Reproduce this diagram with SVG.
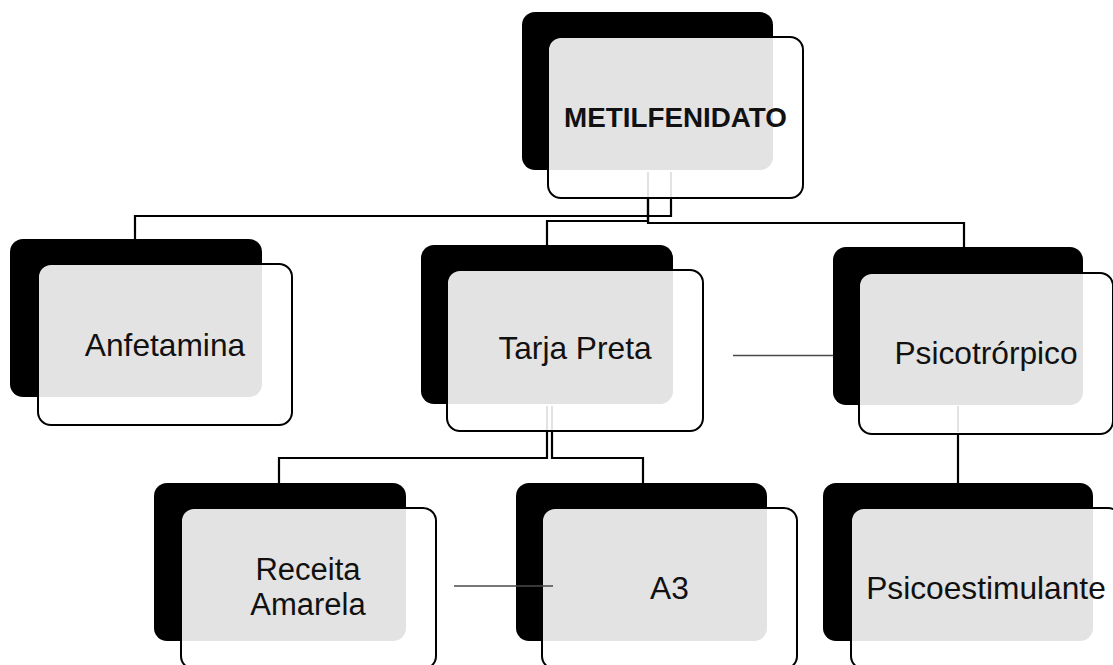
<svg xmlns="http://www.w3.org/2000/svg" width="1113" height="665" viewBox="0 0 1113 665">
<style>
.back{fill:#000}
.front{fill:#fff;fill-opacity:0.89;stroke:#000;stroke-width:2}
.lbl{font-family:"Liberation Sans",Arial,sans-serif;font-size:31.7px;fill:#111;text-anchor:middle}
.bold{font-weight:bold;font-size:27.8px}
.two{font-size:31px}
.conn{fill:none;stroke:#000;stroke-width:2.2}
.faint{fill:none;stroke:#e2e2e2;stroke-width:2}
.side{fill:none;stroke:#4a4a4a;stroke-width:1.7}
</style>
<rect width="1113" height="665" fill="#fff"/>
<g id="n-metilfenidato">
<rect class="back" x="522" y="12" width="251" height="158" rx="13"/>
<rect class="front" x="548" y="37" width="255" height="161" rx="13"/>
<text class="lbl bold" x="675.5" y="127">METILFENIDATO</text>
</g>
<g id="n-anfetamina">
<rect class="back" x="10" y="239" width="252" height="158" rx="13"/>
<rect class="front" x="38" y="264" width="254" height="161" rx="13"/>
<text class="lbl" x="165" y="356">Anfetamina</text>
</g>
<g id="n-tarja-preta">
<rect class="back" x="421" y="245" width="252" height="159" rx="13"/>
<rect class="front" x="447" y="270" width="256" height="161" rx="13"/>
<text class="lbl" x="575" y="359">Tarja Preta</text>
</g>
<g id="n-psicotropico">
<rect class="back" x="833" y="247" width="250" height="158" rx="13"/>
<rect class="front" x="859" y="273" width="254" height="161" rx="13"/>
<text class="lbl" x="986" y="364">Psicotrórpico</text>
</g>
<g id="n-receita-amarela">
<rect class="back" x="154" y="483" width="252" height="158" rx="13"/>
<rect class="front" x="181" y="508" width="255" height="161" rx="13"/>
<text class="lbl two" x="308" y="579.5">Receita</text>
<text class="lbl two" x="308" y="614.5">Amarela</text>
</g>
<g id="n-a3">
<rect class="back" x="516" y="483" width="251" height="158" rx="13"/>
<rect class="front" x="542" y="508" width="255" height="161" rx="13"/>
<text class="lbl" x="669.5" y="599">A3</text>
</g>
<g id="n-psicoestimulante">
<rect class="back" x="823" y="483" width="270" height="158" rx="13"/>
<rect class="front" x="851" y="508" width="270" height="161" rx="13"/>
<text class="lbl" x="986" y="599">Psicoestimulante</text>
</g>
<g id="connectors">
<path class="faint" d="M671,172V197M648,172V197M547,406V430M552,406V430M958,406V432"/>
<path class="conn" d="M671,199V216H135V239"/>
<path class="conn" d="M648,199V221H547V245"/>
<path class="conn" d="M648,199V223H964V247"/>
<path class="conn" d="M547,432V458H279V483"/>
<path class="conn" d="M552,432V458H643V483"/>
<path class="conn" d="M958,435V483"/>
<path class="side" d="M733,355.5H833"/>
<path class="side" d="M454,586H553"/>
</g>
</svg>
